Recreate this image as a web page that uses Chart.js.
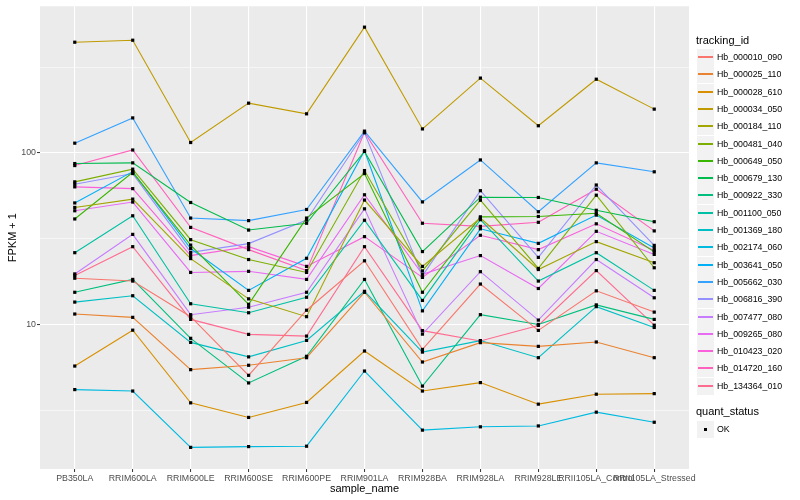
<!DOCTYPE html>
<html>
<head>
<meta charset="utf-8">
<script src="https://cdn.jsdelivr.net/npm/chart.js@4.4.1/dist/chart.umd.min.js"></script>
<style>
  body { margin: 0; background: #fff; font-family: "Liberation Sans", Arial, sans-serif; }
  #wrap { position: relative; width: 800px; height: 500px; }
  #legend { position: absolute; left: 0; top: 0; width: 800px; height: 500px; pointer-events: none; }
  .lg-title { position: absolute; left: 696px; font-size: 11px; color: #000; line-height: 13px; }
  .lg-key { position: absolute; left: 697px; width: 17px; height: 17px; background: #f2f2f2; }
  .lg-line { position: absolute; left: 1px; width: 15px; top: 7px; height: 2px; }
  .lg-dot { position: absolute; left: 7px; top: 7px; width: 3px; height: 3px; background: #000; }
  .lg-text { position: absolute; left: 717px; font-size: 8.8px; color: #000; line-height: 10px; }
</style>
</head>
<body>
<div id="wrap">
  <canvas id="chartCanvas" width="800" height="500"></canvas>
  <div id="legend"></div>
</div>
<script>
// samples on the x axis
const sampleNames = ['PB350LA', 'RRIM600LA', 'RRIM600LE', 'RRIM600SE', 'RRIM600PE', 'RRIM901LA',
    'RRIM928BA', 'RRIM928LA', 'RRIM928LE', 'RRII105LA_Control', 'RRII105LA_Stressed'];

// FPKM + 1 per gene, same order as sampleNames
const hb000010_090 = [18.6, 17.9, 11.1, 5.05, 12.1, 23.5, 7.15, 17.2, 9.23, 15.7, 11.8];
const hb000025_110 = [11.5, 11.0, 5.45, 5.78, 6.4, 15.4, 6.04, 7.83, 7.45, 7.9, 6.4];
const hb000028_610 = [5.72, 9.26, 3.49, 2.87, 3.51, 7.0, 4.09, 4.58, 3.43, 3.92, 3.95];
const hb000034_050 = [442, 454, 115, 195, 169, 541, 138, 273, 144, 269, 180];
const hb000184_110 = [48.1, 53.8, 24.2, 14.1, 11.1, 53.1, 21.8, 41.7, 20.9, 30.4, 22.9];
const hb000481_040 = [67.8, 80.4, 31.2, 23.9, 20.1, 78.9, 20.5, 53, 21.2, 56.7, 21.4];
const hb000649_050 = [41.2, 77.0, 29.0, 13.1, 41.7, 75.8, 15.4, 42.4, 42.6, 44.5, 26.5];
const hb000679_130 = [86.7, 87.5, 51.4, 35.5, 38.9, 102, 26.6, 55.2, 55, 46.3, 39.7];
const hb000922_330 = [15.4, 18.3, 8.3, 4.56, 6.52, 18.3, 4.37, 11.4, 10.0, 13.0, 10.7];
const hb001100_050 = [26.2, 43.0, 13.2, 11.7, 14.4, 40.5, 13.8, 40.8, 17.9, 26.2, 15.8];
const hb001369_180 = [13.5, 14.7, 7.86, 6.47, 8.07, 15.6, 6.9, 8.05, 6.4, 12.7, 9.6];
const hb002174_060 = [4.17, 4.09, 1.92, 1.94, 1.95, 5.35, 2.42, 2.53, 2.56, 3.08, 2.69];
const hb003641_050 = [51.1, 77.8, 27.7, 15.8, 24.3, 103, 12.0, 36.1, 29.7, 43.4, 27.9];
const hb005662_030 = [114, 160, 41.7, 40.3, 46.8, 134, 51.8, 91, 45.4, 87.5, 77.6];
const hb006816_390 = [65.7, 75.8, 26.3, 29.6, 40.6, 131, 19.2, 60.2, 24.6, 65, 28.9];
const hb007477_080 = [19.7, 33.5, 11.4, 12.6, 15.4, 47.2, 8.78, 20.3, 10.6, 23.9, 14.3];
const hb009265_080 = [46.0, 51.7, 20.1, 20.4, 18.3, 57.0, 19.6, 25.2, 16.2, 34.9, 25.6];
const hb010423_020 = [63.4, 61.9, 25.2, 28.4, 21.8, 32.5, 18.8, 33.1, 27.3, 38.6, 27];
const hb014720_160 = [84.4, 104, 36.8, 27.3, 20.6, 132, 38.9, 37.3, 39.4, 61.4, 35.1];
const hb134364_010 = [19.3, 28.4, 10.7, 8.75, 8.55, 28.4, 9.2, 8.0, 9.87, 20.6, 9.9];

const trackingIds = ['Hb_000010_090', 'Hb_000025_110', 'Hb_000028_610', 'Hb_000034_050', 'Hb_000184_110',
    'Hb_000481_040', 'Hb_000649_050', 'Hb_000679_130', 'Hb_000922_330', 'Hb_001100_050',
    'Hb_001369_180', 'Hb_002174_060', 'Hb_003641_050', 'Hb_005662_030', 'Hb_006816_390',
    'Hb_007477_080', 'Hb_009265_080', 'Hb_010423_020', 'Hb_014720_160', 'Hb_134364_010'];
const seriesValues = [hb000010_090, hb000025_110, hb000028_610, hb000034_050, hb000184_110,
    hb000481_040, hb000649_050, hb000679_130, hb000922_330, hb001100_050,
    hb001369_180, hb002174_060, hb003641_050, hb005662_030, hb006816_390,
    hb007477_080, hb009265_080, hb010423_020, hb014720_160, hb134364_010];

// y axis: labelled breaks and the minor (half-decade) grid lines
const yMajorTicks = [10, 100];
const yMinorTicks = [3.1623, 31.623, 316.23];

// ggplot default hue palette for 20 levels
const colors = ['#F8766D', '#EA8331', '#D89000', '#C09B00', '#A3A500', '#7CAE00', '#39B600', '#00BB4E',
    '#00BF7D', '#00C1A3', '#00BFC4', '#00BAE0', '#00B0F6', '#35A2FF', '#9590FF', '#C77CFF',
    '#E76BF3', '#FA62DB', '#FF62BC', '#FF6C91'];

const panelBackground = {
    id: 'panelBackground',
    beforeDraw(chart) {
        const { ctx, chartArea: a } = chart;
        ctx.save();
        ctx.fillStyle = '#EBEBEB';
        ctx.fillRect(a.left, a.top, a.right - a.left, a.bottom - a.top);
        ctx.restore();
    }
};

// black square points drawn above every line, like geom_point after geom_line
const pointsOnTop = {
    id: 'pointsOnTop',
    afterDatasetsDraw(chart) {
        const ctx = chart.ctx;
        ctx.save();
        ctx.fillStyle = '#000';
        chart.data.datasets.forEach((ds, i) => {
            chart.getDatasetMeta(i).data.forEach(pt => {
                ctx.fillRect(pt.x - 1.6, pt.y - 1.6, 3.2, 3.2);
            });
        });
        ctx.restore();
    }
};

const datasets = seriesValues.map((vals, s) => ({
    label: trackingIds[s],
    data: vals.map((v, i) => ({ x: i, y: v })),
    borderColor: colors[s],
    borderWidth: 1.1,
    pointRadius: 0,
    tension: 0,
    fill: false
}));

const isMajor = v => yMajorTicks.includes(v);

new Chart(document.getElementById('chartCanvas').getContext('2d'), {
    type: 'line',
    data: { datasets: datasets },
    options: {
        responsive: false,
        animation: false,
        events: [],
        layout: { padding: { top: 5, right: 111, left: 0, bottom: 0 } },
        plugins: { legend: { display: false }, tooltip: { enabled: false } },
        scales: {
            x: {
                type: 'linear',
                min: -0.6,
                max: 10.6,
                afterBuildTicks: scale => { scale.ticks = sampleNames.map((_, i) => ({ value: i })); },
                afterFit: scale => { scale.height = 31; },
                border: { display: false },
                grid: { color: '#FFFFFF', lineWidth: 1.1, tickColor: '#333333', tickLength: 3, tickWidth: 1 },
                ticks: {
                    autoSkip: false, maxRotation: 0, minRotation: 0, padding: 1,
                    color: '#4D4D4D', font: { family: 'Liberation Sans', size: 8.8 },
                    callback: v => sampleNames[v]
                },
                title: {
                    display: true, text: 'sample_name', color: '#000',
                    font: { family: 'Liberation Sans', size: 11 }, padding: { top: 0, bottom: 4 }
                }
            },
            y: {
                type: 'logarithmic',
                min: 1.436,
                max: 716,
                afterBuildTicks: scale => {
                    scale.ticks = yMinorTicks.concat(yMajorTicks).sort((a, b) => a - b).map(v => ({ value: v }));
                },
                afterFit: scale => { scale.width = 40; },
                border: { display: false },
                grid: {
                    color: '#FFFFFF',
                    lineWidth: c => (c.tick && isMajor(c.tick.value)) ? 1.1 : 0.55,
                    tickColor: c => (c.tick && isMajor(c.tick.value)) ? '#333333' : 'rgba(0,0,0,0)',
                    tickLength: 3, tickWidth: 1
                },
                ticks: {
                    padding: 1, color: '#4D4D4D', font: { family: 'Liberation Sans', size: 8.8 },
                    callback: v => isMajor(v) ? String(v) : ''
                },
                title: {
                    display: true, text: 'FPKM + 1', color: '#000',
                    font: { family: 'Liberation Sans', size: 11 }, padding: { top: 6, bottom: 0 }
                }
            }
        }
    },
    plugins: [panelBackground, pointsOnTop]
});

// legend built as html text beside the panel
const legend = document.getElementById('legend');
let html = '<div class="lg-title" style="top:34px">tracking_id</div>';
trackingIds.forEach((id, i) => {
    const top = Math.round(49 + i * 17.3);
    html += `<div class="lg-key" style="top:${top}px"><div class="lg-line" style="background-color:${colors[i]}"></div></div>`;
    html += `<div class="lg-text" style="top:${top + 3}px">${id}</div>`;
});
html += '<div class="lg-title" style="top:405px">quant_status</div>';
html += '<div class="lg-key" style="top:421px"><div class="lg-dot"></div></div>';
html += '<div class="lg-text" style="top:424px">OK</div>';
legend.innerHTML = html;
</script>
</body>
</html>
